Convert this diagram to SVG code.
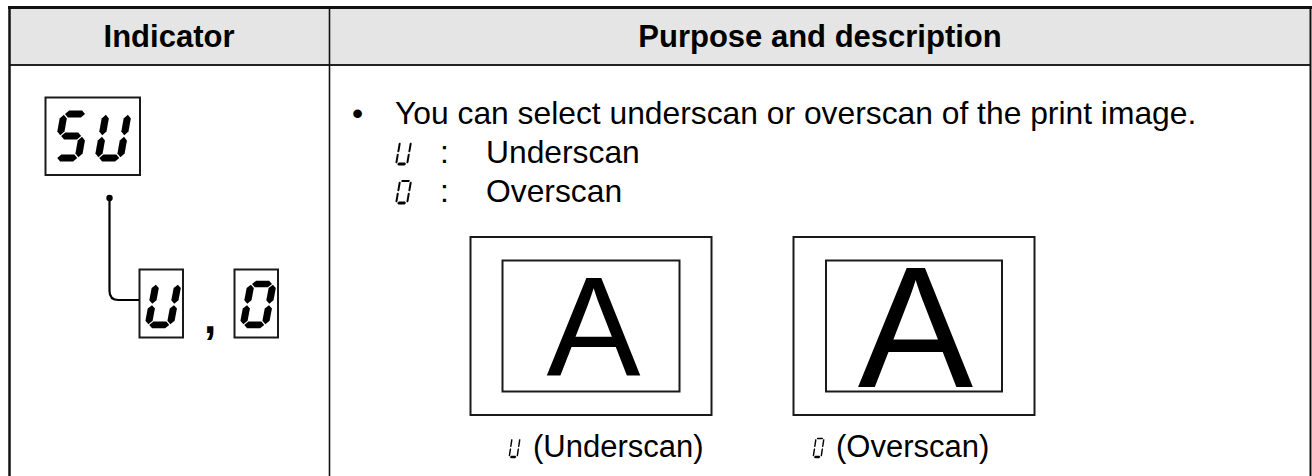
<svg xmlns="http://www.w3.org/2000/svg" xmlns:xlink="http://www.w3.org/1999/xlink" width="1312" height="476" viewBox="0 0 1312 476">
<style>
.t{font-family:"Liberation Sans",Arial,sans-serif;fill:#000}
.hd{font-size:31px;font-weight:bold;text-anchor:middle}
.bd{font-size:31.8px}
.cap{font-size:31px}
.big{text-anchor:middle}
.frame{fill:none;stroke:#1a1a1a}
.seg{fill:#000}
.conn{fill:none;stroke:#000;stroke-width:2.2}
</style>
<defs>
<polygon id="h" class="seg" points="-10,0 -6.5,-3.6 6.5,-3.6 10,0 6.5,3.6 -6.5,3.6"/>
<polygon id="v" class="seg" points="0,-10.2 3.6,-6.6 3.6,6.6 0,10.2 -3.6,6.6 -3.6,-6.6"/>
<polygon id="ht" class="seg" points="-9,0 -7,-2 7,-2 9,0 7,2 -7,2"/>
<polygon id="vt" class="seg" points="0,-9.8 2,-7.8 2,7.8 0,9.8 -2,7.8 -2,-7.8"/>
<polygon id="hb" class="seg" points="-9,0 -6,-3 6,-3 9,0 6,3 -6,3"/>
<g id="d5"><use xlink:href="#h" x="11" y="0"/><use xlink:href="#v" x="0" y="11"/><use xlink:href="#h" x="11" y="22"/><use xlink:href="#v" x="22" y="33"/><use xlink:href="#h" x="11" y="44"/></g>
<g id="dU"><use xlink:href="#v" x="0" y="11"/><use xlink:href="#v" x="22" y="11"/><use xlink:href="#v" x="0" y="33"/><use xlink:href="#v" x="22" y="33"/><use xlink:href="#h" x="11" y="44"/></g>
<g id="d0"><use xlink:href="#h" x="11" y="0"/><use xlink:href="#v" x="0" y="11"/><use xlink:href="#v" x="22" y="11"/><use xlink:href="#v" x="0" y="33"/><use xlink:href="#v" x="22" y="33"/><use xlink:href="#h" x="11" y="44"/></g>
<g id="dUt"><use xlink:href="#vt" x="0" y="11"/><use xlink:href="#vt" x="22" y="11"/><use xlink:href="#vt" x="0" y="33"/><use xlink:href="#vt" x="22" y="33"/><use xlink:href="#hb" x="11" y="44"/></g>
<g id="d0t"><use xlink:href="#ht" x="11" y="0"/><use xlink:href="#vt" x="0" y="11"/><use xlink:href="#vt" x="22" y="11"/><use xlink:href="#vt" x="0" y="33"/><use xlink:href="#vt" x="22" y="33"/><use xlink:href="#hb" x="11" y="44"/></g>
</defs>

<g id="table">
<rect x="9" y="7" width="1302" height="58" fill="#e5e5e5"/>
<line x1="8" y1="7.5" x2="1312" y2="7.5" stroke="#111" stroke-width="3"/>
<line x1="9" y1="65" x2="1311" y2="65" stroke="#222" stroke-width="2"/>
<line x1="9.5" y1="6" x2="9.5" y2="476" stroke="#111" stroke-width="2.5"/>
<line x1="1310.5" y1="6" x2="1310.5" y2="476" stroke="#111" stroke-width="2"/>
<line x1="329.5" y1="7" x2="329.5" y2="476" stroke="#111" stroke-width="1.6"/>
<text class="t hd" x="169" y="47">Indicator</text>
<text class="t hd" x="820" y="47">Purpose and description</text>
</g>

<g id="node-su">
<rect class="frame" x="45.5" y="97.5" width="94.5" height="77.5" stroke-width="2"/>
<use xlink:href="#d5" transform="translate(64,114) skewX(-10)"/>
<use xlink:href="#dU" transform="translate(106,114) skewX(-10)"/>
</g>

<g id="node-u">
<rect class="frame" x="139.5" y="269.5" width="43.5" height="68" stroke-width="2"/>
<use xlink:href="#dU" transform="translate(156,284) scale(1,0.93) skewX(-10)"/>
</g>

<text id="comma" class="t" x="210" y="333" font-size="44" font-weight="bold" text-anchor="middle">,</text>

<g id="node-o">
<rect class="frame" x="234.5" y="269.5" width="43.5" height="68" stroke-width="2"/>
<use xlink:href="#d0" transform="translate(251,284) scale(1,0.93) skewX(-10)"/>
</g>

<g id="connectors">
<circle cx="109.5" cy="198" r="3.2" fill="#000"/>
<path class="conn" d="M109.5,198 V291 Q109.5,300 118.5,300 H139"/>
</g>

<g id="description">
<text class="t bd" x="352" y="124">•</text>
<text class="t bd" x="395" y="124">You can select underscan or overscan of the print image.</text>
<use xlink:href="#dUt" transform="translate(400,142) scale(0.5) skewX(-10)"/>
<text class="t bd" x="440" y="163">:</text>
<text class="t bd" x="486" y="163">Underscan</text>
<use xlink:href="#d0t" transform="translate(400,181) scale(0.5) skewX(-10)"/>
<text class="t bd" x="440" y="202">:</text>
<text class="t bd" x="486" y="202">Overscan</text>
</g>

<g id="underscan-image">
<rect class="frame" x="470.5" y="237" width="241" height="178" stroke-width="2"/>
<rect class="frame" x="502.5" y="260.5" width="177" height="131" stroke-width="2"/>
<text class="t big" x="593.5" y="375" font-size="141">A</text>
<use xlink:href="#dUt" transform="translate(512,438.5) scale(0.36,0.42) skewX(-10)"/>
<text class="t cap" x="533" y="457">(Underscan)</text>
</g>

<g id="overscan-image">
<rect class="frame" x="793.5" y="237" width="241" height="178" stroke-width="2"/>
<rect class="frame" x="826" y="260.5" width="176" height="131" stroke-width="2"/>
<text class="t big" x="915.5" y="387" font-size="173">A</text>
<use xlink:href="#d0t" transform="translate(816,438.5) scale(0.36,0.42) skewX(-10)"/>
<text class="t cap" x="836" y="457">(Overscan)</text>
</g>
</svg>
